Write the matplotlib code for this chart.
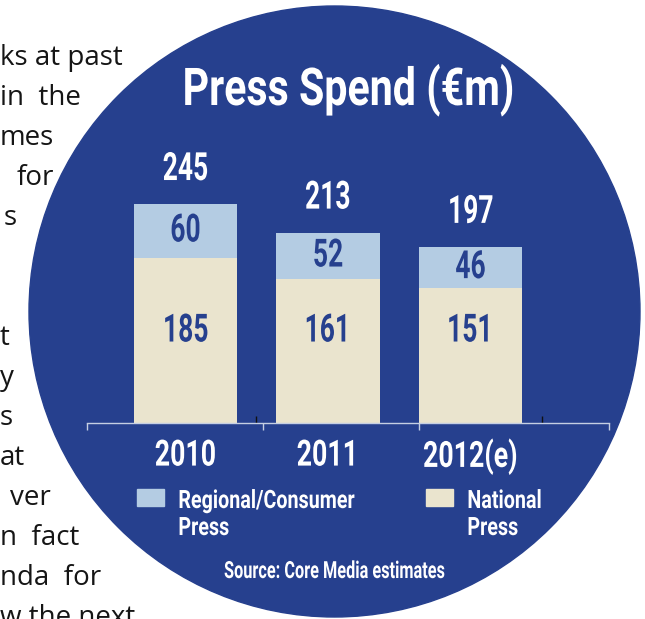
import matplotlib
matplotlib.use('Agg')
import matplotlib.pyplot as plt
from matplotlib.patches import Circle, Rectangle
from matplotlib.patheffects import AbstractPathEffect
from matplotlib.transforms import Affine2D
import numpy as np

# Press spend, EUR millions
years = ['2010', '2011', '2012(e)']
national = [185, 161, 151]
regional = [60, 52, 46]
totals = [245, 213, 197]
legend_labels = [['Regional/Consumer', 'Press'], ['National', 'Press']]

# fragments of the article column showing beside the circle
body_lines = ['ks at past', 'in  the', 'mes', 'for', 's',
              't', 'y', 's', 'at', 'ver', 'n  fact', 'nda  for', 'w the next']
body_x = [0, 0, 0, 17, 4, 0, 0, 0, 0, 10, 0, 0, 0]
body_base = [65, 105, 145, 185, 225, 345, 385, 425, 465, 505, 545, 585, 625]

navy = '#26408E'
light_blue = '#B4CCE3'
beige = '#EAE4CE'
axis_grey = '#C5CFE3'

COND = 'Roboto'


class Squeeze(AbstractPathEffect):
    """Draw text narrower than the font by scaling its glyph path in x."""

    def __init__(self, sx, anchor='center'):
        super().__init__()
        self._sx = sx
        self._anchor = anchor

    def draw_path(self, renderer, gc, tpath, affine, rgbFace=None):
        ext = tpath.get_extents()
        x0 = ext.x0 if self._anchor == 'left' else (ext.x0 + ext.x1) / 2
        squeeze = Affine2D().translate(-x0, 0).scale(self._sx, 1).translate(x0, 0)
        renderer.draw_path(gc, tpath, squeeze + affine, rgbFace)


fig = plt.figure(figsize=(6.45, 6.19), dpi=100)

# background layer in pixel units: article text and the blue disc
bg = fig.add_axes([0, 0, 1, 1])
bg.set_xlim(0, 645)
bg.set_ylim(619, 0)
bg.axis('off')

for txt, x, y in zip(body_lines, body_x, body_base):
    bg.text(x, y, txt, ha='left', va='baseline', fontsize=20,
            family='Open Sans', color='#151515', zorder=1)

bg.add_patch(Circle((334.5, 311.5), 305.5, color=navy, zorder=2))

bg.text(348.5, 105, 'Press Spend (€m)', ha='center', va='baseline', fontsize=37.5,
        family=COND, weight='bold', color='white', zorder=3,
        path_effects=[Squeeze(0.79)])

# legend: swatch plus two-line label
for (sx, colour), lines in zip([(137, light_blue), (426, beige)], legend_labels):
    bg.add_patch(Rectangle((sx, 489), 27, 17, color=colour, zorder=3))
    for k, line in enumerate(lines):
        bg.text(sx + 41, 508 + 27 * k, line, ha='left', va='baseline',
                fontsize=18.2, family=COND, weight='bold', color='white',
                zorder=3, path_effects=[Squeeze(0.78, 'left')])

bg.text(334.5, 578, 'Source: Core Media estimates', ha='center', va='baseline',
        fontsize=17, family=COND, weight='bold', color='white', zorder=3,
        path_effects=[Squeeze(0.69)])

# stacked bars
ax = fig.add_axes([87 / 645, 196 / 619, 522 / 645, 250 / 619])
ax.set_facecolor('none')
x = np.arange(len(years))
width = 0.726
ax.bar(x, national, width=width, color=beige, zorder=2)
ax.bar(x, regional, width=width, bottom=national, color=light_blue, zorder=2)

ax.set_xlim(-0.691, 2.972)
ax.set_ylim(0, 280)
ax.set_yticks([])
for side in ['top', 'left', 'right']:
    ax.spines[side].set_visible(False)
ax.spines['bottom'].set_color(axis_grey)
ax.spines['bottom'].set_linewidth(1)

ax.set_xticks(x)
ax.set_xticklabels(years)
ax.tick_params(axis='x', which='major', length=0, pad=10.5, labelsize=26,
               labelcolor='white')
ax.set_xticks([-0.688, 0.544, 1.639, 2.969], minor=True)
ax.tick_params(axis='x', which='minor', length=5, width=1, color=axis_grey,
               direction='out')
for lbl in ax.get_xticklabels():
    lbl.set_family(COND)
    lbl.set_weight('bold')
    lbl.set_path_effects([Squeeze(0.74)])

# small dark marks sitting on the baseline
marks = ax.secondary_xaxis(0)
marks.set_xticks([0.495, 2.502], labels=['', ''])
marks.tick_params(direction='in', length=5, width=1, color='#111111')
marks.spines['bottom'].set_visible(False)

num_style = dict(ha='center', va='center', fontsize=28, family=COND,
                 weight='bold', path_effects=[Squeeze(0.68)], zorder=3)
label_y = 103
for i in x:
    ax.text(i, label_y, str(national[i]), color=navy, **num_style)
    ax.text(i, national[i] + regional[i] / 2, str(regional[i]), color=navy,
            **num_style)
    ax.annotate(str(totals[i]), (i, totals[i]), xytext=(0, 25),
                textcoords='offset points', color='white', **num_style)

fig.savefig('out.png', dpi=100)
